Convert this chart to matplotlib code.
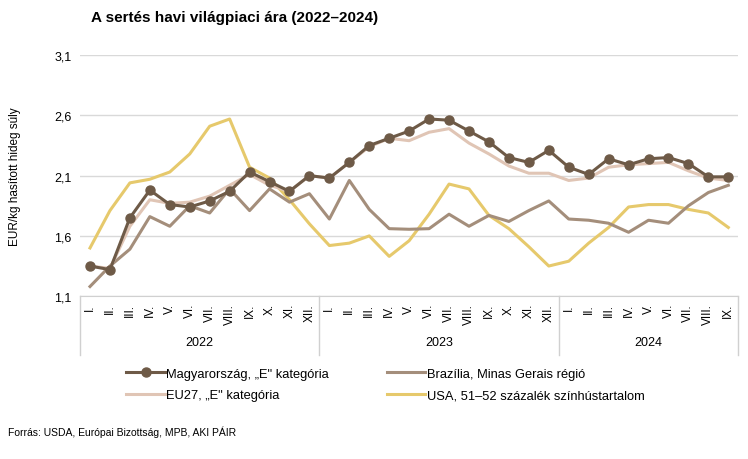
import matplotlib
matplotlib.use("Agg")
import matplotlib.pyplot as plt
import matplotlib.transforms as mtransforms
from matplotlib.lines import Line2D

plt.rcParams['font.family'] = ['Liberation Sans', 'DejaVu Sans']

months_2022 = ["I.", "II.", "III.", "IV.", "V.", "VI.", "VII.", "VIII.", "IX.", "X.", "XI.", "XII."]
months_2023 = ["I.", "II.", "III.", "IV.", "V.", "VI.", "VII.", "VIII.", "IX.", "X.", "XI.", "XII."]
months_2024 = ["I.", "II.", "III.", "IV.", "V.", "VI.", "VII.", "VIII.", "IX."]
years = ["2022", "2023", "2024"]

hungary = [1.35, 1.32, 1.75, 1.98, 1.86, 1.84, 1.89, 1.97, 2.13, 2.05, 1.97, 2.10,
           2.08, 2.21, 2.35, 2.41, 2.47, 2.57, 2.56, 2.47, 2.38, 2.25, 2.21, 2.31,
           2.17, 2.11, 2.24, 2.19, 2.24, 2.25, 2.20, 2.09, 2.09]
brazil = [1.18, 1.35, 1.49, 1.76, 1.68, 1.85, 1.79, 1.99, 1.81, 1.99, 1.88, 1.95,
          1.74, 2.06, 1.82, 1.66, 1.655, 1.66, 1.78, 1.68, 1.77, 1.72, 1.81, 1.89,
          1.74, 1.73, 1.705, 1.63, 1.73, 1.705, 1.85, 1.96, 2.02]
eu27 = [1.35, 1.33, 1.68, 1.90, 1.87, 1.88, 1.93, 2.02, 2.11, 2.02, 1.97, 2.10,
        2.08, 2.21, 2.34, 2.41, 2.39, 2.46, 2.49, 2.37, 2.28, 2.18, 2.12, 2.12,
        2.06, 2.08, 2.17, 2.19, 2.20, 2.21, 2.14, 2.08, 2.06]
usa = [1.50, 1.81, 2.04, 2.07, 2.13, 2.28, 2.51, 2.57, 2.17, 2.08, 1.90, 1.70,
       1.52, 1.54, 1.60, 1.43, 1.56, 1.78, 2.03, 1.99, 1.77, 1.66, 1.51, 1.35,
       1.39, 1.54, 1.67, 1.84, 1.86, 1.86, 1.82, 1.79, 1.67]

names = ["Magyarország, „E\" kategória", "Brazília, Minas Gerais régió",
         "EU27, „E\" kategória", "USA, 51–52 százalék színhústartalom"]
c_hu = "#6e5a47"
c_br = "#a48e7b"
c_eu = "#e0c5b5"
c_us = "#e6c96c"

labels = months_2022 + months_2023 + months_2024
x = list(range(len(labels)))

fig = plt.figure(figsize=(7.48, 4.6), dpi=100)
ax = fig.add_axes([0.107, 0.354, 0.880, 0.524])

ax.plot(x, usa, color=c_us, lw=2.2, zorder=3)
ax.plot(x, brazil, color=c_br, lw=2.2, zorder=3)
ax.plot(x, eu27, color=c_eu, lw=2.2, zorder=4)
ax.plot(x, hungary, color=c_hu, lw=2.2, marker='o', markersize=6.5, zorder=5)

ax.set_ylim(1.1, 3.1)
ax.set_yticks([1.1, 1.6, 2.1, 2.6, 3.1])
ax.set_yticklabels(["1,1", "1,6", "2,1", "2,6", "3,1"], fontsize=9)
ax.set_xlim(-0.5, len(labels) - 0.5)
ax.set_xticks(x)
ax.set_xticklabels(labels, rotation=90, fontsize=8.5, va='top', ha='center')
ax.tick_params(length=0, pad=6)
ax.tick_params(axis='x', pad=5)
ax.grid(axis='y', color='#d9d9d9', lw=1)
ax.set_axisbelow(True)
for s in ['left', 'right', 'top']:
    ax.spines[s].set_visible(False)
ax.spines['bottom'].set_color('#d0d0d0')

ax.set_ylabel("EUR/kg hasított hideg súly", fontsize=8.5)
ax.yaxis.set_label_coords(-0.089, 0.5)

# year groups below the month labels
trans = mtransforms.blended_transform_factory(ax.transData, ax.transAxes)
counts = [len(months_2022), len(months_2023), len(months_2024)]
start = -0.5
bounds = [start]
for yr, n in zip(years, counts):
    ax.text(start + n / 2, -0.19, yr, transform=trans, ha='center', va='center', fontsize=9)
    start += n
    bounds.append(start)
for b in bounds:
    ax.add_line(Line2D([b, b], [0, -0.245], transform=trans, color='#d0d0d0', lw=1, clip_on=False))

fig.text(0.122, 0.952, "A sertés havi világpiaci ára (2022–2024)", fontsize=11, fontweight='bold')

handles = [Line2D([], [], color=c_hu, lw=2.2, marker='o', markersize=6.5),
           Line2D([], [], color=c_br, lw=2.2),
           Line2D([], [], color=c_eu, lw=2.2),
           Line2D([], [], color=c_us, lw=2.2)]
order = [0, 2, 1, 3]
fig.legend([handles[i] for i in order], [names[i] for i in order], ncol=2,
           loc='upper left', bbox_to_anchor=(0.162, 0.21), frameon=False,
           fontsize=9.3, handlelength=3.0, handletextpad=0.1, columnspacing=4.45,
           labelspacing=0.75, borderaxespad=0)

fig.text(0.011, 0.052, "Forrás: USDA, Európai Bizottság, MPB, AKI PÁIR", fontsize=7.5)

fig.savefig("out.png", dpi=100)
